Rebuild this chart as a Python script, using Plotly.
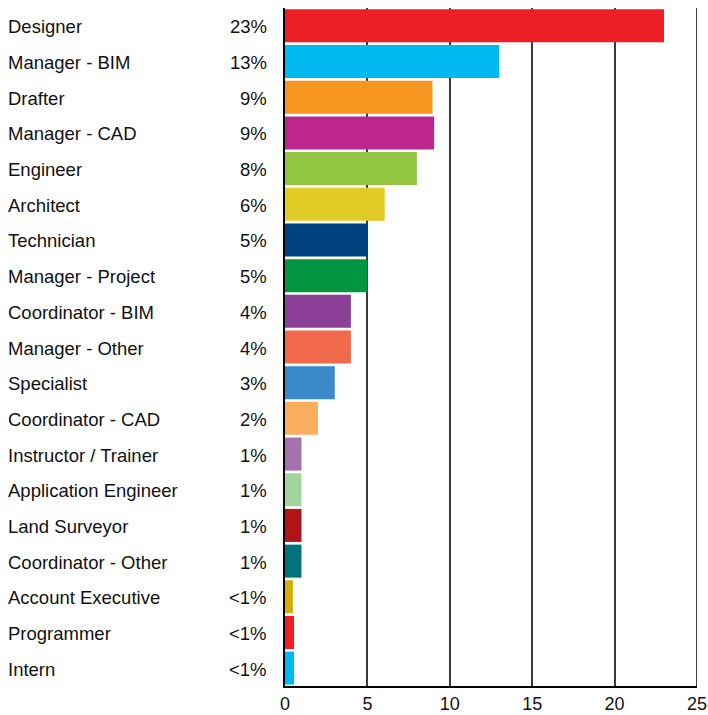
import plotly.graph_objects as go

roles = ["Designer", "Manager - BIM", "Drafter", "Manager - CAD", "Engineer",
         "Architect", "Technician", "Manager - Project", "Coordinator - BIM",
         "Manager - Other", "Specialist", "Coordinator - CAD",
         "Instructor / Trainer", "Application Engineer", "Land Surveyor",
         "Coordinator - Other", "Account Executive", "Programmer", "Intern"]
values = [23, 13, 8.95, 9.05, 8, 6.05, 5.02, 5, 4, 4, 3.02, 2, 1, 1, 1, 1, 0.48, 0.55, 0.55]
pct_labels = ["23%", "13%", "9%", "9%", "8%", "6%", "5%", "5%", "4%", "4%", "3%",
              "2%", "1%", "1%", "1%", "1%", "<1%", "<1%", "<1%"]
colors = ["#ED1F24", "#00B9F0", "#F7961E", "#BF268D", "#92C642", "#E1CB26",
          "#00427F", "#049540", "#8C3F97", "#F16A4B", "#3A89C9", "#FBAE5E",
          "#A572AE", "#A3D49E", "#B11319", "#01727C", "#D6AB0C", "#ED1F24",
          "#00B9F0"]

label_font = dict(family="Liberation Sans, Arial, sans-serif",
                  size=18.5, color="#111111")

fig = go.Figure()
fig.add_trace(go.Bar(
    x=values, y=roles, orientation="h",
    marker=dict(color=colors, line=dict(width=0)),
    hoverinfo="skip",
))

for role, pct in zip(roles, pct_labels):
    fig.add_annotation(x=0, xref="paper", y=role, yref="y", text=role,
                       xanchor="left", xshift=-279, yshift=-1, showarrow=False,
                       font=label_font)
    fig.add_annotation(x=0, xref="paper", y=role, yref="y", text=pct,
                       xanchor="right", xshift=-16, yshift=-1, showarrow=False,
                       font=label_font)

# black right border at 25
fig.add_shape(type="line", x0=25, x1=25, xref="x", y0=0, y1=1, yref="paper",
              line=dict(color="#000000", width=1.5), layer="above")

fig.update_layout(
    width=708, height=715,
    margin=dict(l=285, r=11, t=8, b=29, autoexpand=False),
    paper_bgcolor="white", plot_bgcolor="white",
    bargap=0.075, showlegend=False,
    xaxis=dict(range=[0, 25], tickvals=[0, 5, 10, 15, 20, 25],
               showgrid=True, gridcolor="#3a3a3a", gridwidth=1.5,
               zeroline=False, showline=True, linecolor="#000000", linewidth=1.5,
               ticks="", ticklabelstandoff=1, automargin=False,
               ticklabeloverflow="allow",
               tickfont=dict(family="Liberation Sans, Arial, sans-serif",
                             size=18, color="#111111")),
    yaxis=dict(autorange="reversed", showticklabels=False, showgrid=False,
               showline=True, linecolor="#000000", linewidth=1.5,
               zeroline=False, ticks="", automargin=False),
)

# page body has a default 8px margin; drop it so the figure fills the window
fig.write_html("out.html", config={"displayModeBar": False},
               post_script="document.body.style.margin='0';")
